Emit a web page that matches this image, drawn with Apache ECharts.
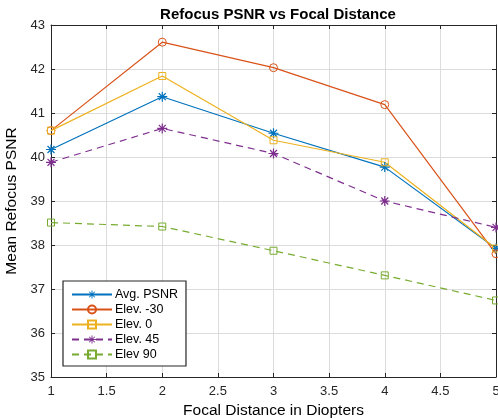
<!DOCTYPE html>
<html>
<head>
<meta charset="utf-8">
<script src="https://cdn.jsdelivr.net/npm/echarts@6/dist/echarts.min.js"></script>
<style>
    html, body { margin: 0; padding: 0; background: #fff; }
    #chart { width: 498px; height: 419px; }
</style>
</head>
<body>
<div id="chart"></div>
<script>
    // focal distances (diopters)
    var focalDistances = [1, 2, 3, 4, 5];
    var avgPsnr = [40.17, 41.37, 40.54, 39.77, 37.92];
    var elevMinus30 = [40.6, 42.61, 42.03, 41.19, 37.8];
    var elev0 = [40.6, 41.84, 40.38, 39.88, 37.92];
    var elev45 = [39.88, 40.65, 40.08, 39.0, 38.4];
    var elev90 = [38.51, 38.42, 37.87, 37.31, 36.74];
    var xTicks = [1, 1.5, 2, 2.5, 3, 3.5, 4, 4.5, 5];
    var yTicks = [35, 36, 37, 38, 39, 40, 41, 42, 43];

    var asterisk = 'path://M0,8.8L20,8.8L20,11.2L0,11.2Z M8.8,0L11.2,0L11.2,20L8.8,20Z M3.9,2.2L17.8,16.1L16.1,17.8L2.2,3.9Z M16.1,2.2L17.8,3.9L3.9,17.8L2.2,16.1Z';
    var axisColor = '#262626';

    function pairs(ys) {
        return focalDistances.map(function (x, i) { return [x, ys[i]]; });
    }

    function makeSeries(name, data, color, symbol, dashed) {
        let star = symbol == asterisk;
        return {
            name: name,
            type: 'line',
            data: pairs(data),
            symbol: symbol,
            symbolSize: star ? 10 : (symbol == 'circle' ? 8 : 7),
            showSymbol: true,
            animation: false,
            itemStyle: star
                ? { color: color, borderWidth: 0 }
                : { color: 'rgba(255,255,255,0)', borderColor: color, borderWidth: 1 },
            lineStyle: { color: color, width: 1.2, type: dashed ? [7, 5] : 'solid' },
            emphasis: { disabled: true }
        };
    }

    var chart = echarts.init(document.getElementById('chart'));
    chart.setOption({
        animation: false,
        title: {
            text: 'Refocus PSNR vs Focal Distance',
            left: 273,
            textAlign: 'center',
            top: 2,
            textStyle: { fontFamily: 'Liberation Sans, Arial', fontSize: 15, fontWeight: 'bold', color: '#000' }
        },
        grid: { left: 51, right: 2, top: 25, bottom: 42, containLabel: false, outerBoundsMode: 'none' },
        legend: {
            orient: 'vertical',
            left: 63,
            top: 281,
            width: 121,
            itemWidth: 40,
            itemHeight: 10,
            itemGap: 2,
            padding: [7, 8, 5, 8],
            backgroundColor: '#fff',
            borderColor: axisColor,
            borderWidth: 1.2,
            textStyle: { fontFamily: 'Liberation Sans, Arial', fontSize: 12.5, color: '#000', padding: [0, 0, 0, -2] },
            data: ['Avg. PSNR', 'Elev. -30', 'Elev. 0', 'Elev. 45', 'Elev 90']
        },
        xAxis: [{
            type: 'value',
            min: 1,
            max: 5,
            interval: 0.5,
            name: 'Focal Distance in Diopters',
            nameLocation: 'middle',
            nameGap: 26,
            nameTextStyle: { fontFamily: 'Liberation Sans, Arial', fontSize: 15.5, color: '#000' },
            axisLine: { lineStyle: { color: axisColor, width: 1 } },
            axisTick: { inside: true, length: 4, lineStyle: { color: axisColor } },
            axisLabel: {
                fontFamily: 'Liberation Sans, Arial', fontSize: 13, color: axisColor, margin: 8,
                showMinLabel: true, showMaxLabel: true,
                formatter: function (v) { return xTicks.indexOf(v) >= 0 ? String(v) : ''; }
            },
            splitLine: { show: true, lineStyle: { color: '#dcdcdc', width: 1 } }
        }, {
            type: 'value',
            position: 'top',
            min: 1,
            max: 5,
            interval: 0.5,
            axisLine: { lineStyle: { color: axisColor, width: 1 } },
            axisTick: { inside: true, length: 4, lineStyle: { color: axisColor } },
            axisLabel: { show: false },
            splitLine: { show: false }
        }],
        yAxis: [{
            type: 'value',
            min: 35,
            max: 43,
            interval: 1,
            name: 'Mean Refocus PSNR',
            nameLocation: 'middle',
            nameGap: 25,
            nameTextStyle: { fontFamily: 'Liberation Sans, Arial', fontSize: 15.5, color: '#000' },
            axisLine: { show: true, lineStyle: { color: axisColor, width: 1 } },
            axisTick: { show: true, inside: true, length: 4, lineStyle: { color: axisColor } },
            axisLabel: {
                fontFamily: 'Liberation Sans, Arial', fontSize: 13, color: axisColor, margin: 6,
                formatter: function (v) { return yTicks.indexOf(v) >= 0 ? String(v) : ''; }
            },
            splitLine: { show: true, lineStyle: { color: '#dcdcdc', width: 1 } }
        }, {
            type: 'value',
            position: 'right',
            min: 35,
            max: 43,
            interval: 1,
            axisLine: { show: true, lineStyle: { color: axisColor, width: 1 } },
            axisTick: { show: true, inside: true, length: 4, lineStyle: { color: axisColor } },
            axisLabel: { show: false },
            splitLine: { show: false }
        }],
        series: [
            makeSeries('Avg. PSNR', avgPsnr, '#0072BD', asterisk, false),
            makeSeries('Elev. -30', elevMinus30, '#D95319', 'circle', false),
            makeSeries('Elev. 0', elev0, '#EDB120', 'rect', false),
            makeSeries('Elev. 45', elev45, '#7E2F8E', asterisk, true),
            makeSeries('Elev 90', elev90, '#77AC30', 'rect', true)
        ]
    });
</script>
</body>
</html>
